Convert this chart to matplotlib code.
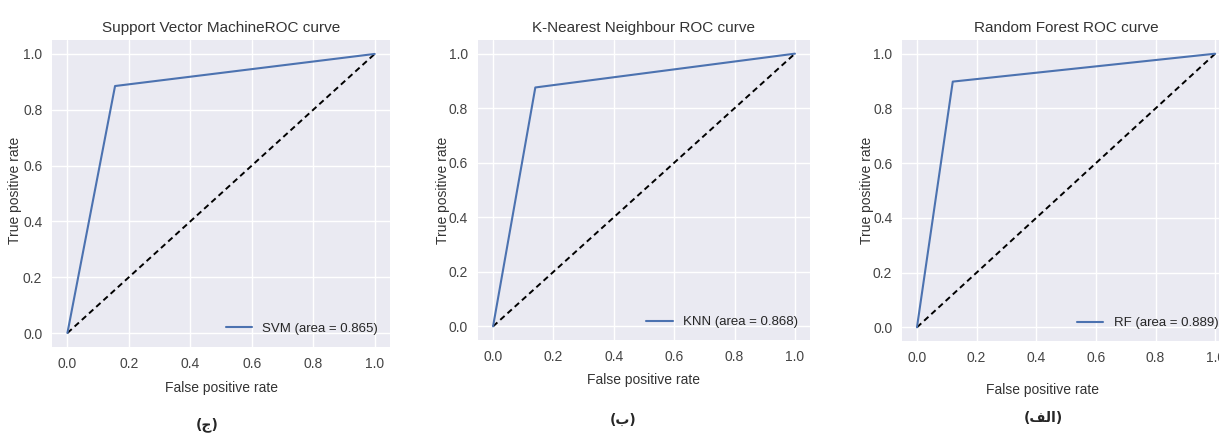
import numpy as np
import matplotlib
matplotlib.use("Agg")
import matplotlib.pyplot as plt

# ROC data
svm_fpr = [0.0, 0.155, 1.0]
svm_tpr = [0.0, 0.885, 1.0]
knn_fpr = [0.0, 0.14, 1.0]
knn_tpr = [0.0, 0.876, 1.0]
rf_fpr = [0.0, 0.12, 1.0]
rf_tpr = [0.0, 0.898, 1.0]

titles = ["Support Vector MachineROC curve", "K-Nearest Neighbour ROC curve", "Random Forest ROC curve"]
names = ["SVM", "KNN", "RF"]
aucs = [0.865, 0.868, 0.889]
# sub-figure captions (ج) (ب) (الف); "الف" written in presentation forms, visual order
captions = ["(ج)", "(ب)", "(\uFED2\uFEDF\uFE8D)"]

plt.style.use("seaborn-v0_8")
plt.rcParams["font.family"] = ["Liberation Sans", "DejaVu Sans"]

fig = plt.figure(figsize=(12.19, 4.34), dpi=100)
fig.patch.set_facecolor("white")

boxes = [[0.0427, 0.2005, 0.2773, 0.7074],
         [0.3921, 0.2166, 0.2724, 0.6912],
         [0.7400, 0.2143, 0.2691, 0.6935]]
curves = [(svm_fpr, svm_tpr), (knn_fpr, knn_tpr), (rf_fpr, rf_tpr)]
ylab_x = [15, 443, 867]
xlab_y = [388, 380, 390]
cap_pos = [(207, 425), (623, 420), (1043, 418)]

for i in range(3):
    ax = fig.add_axes(boxes[i])
    fpr, tpr = curves[i]
    ax.plot([0, 1], [0, 1], "k--", lw=1.4, dashes=(3, 2))
    ax.plot(fpr, tpr, color="#4C72B0", lw=1.5,
            label="%s (area = %.3f)" % (names[i], aucs[i]))
    ax.set_title(titles[i], fontsize=11, color="#333333")
    ax.set_xticks([0, 0.2, 0.4, 0.6, 0.8, 1.0])
    ax.set_yticks([0, 0.2, 0.4, 0.6, 0.8, 1.0])
    ax.tick_params(labelsize=10, labelcolor="#444444")
    ax.legend(loc="lower right", fontsize=9.5)
    fig.text(ylab_x[i] / 1219, 1 - 190 / 434, "True positive rate", rotation=90,
             ha="center", va="center", fontsize=10, color="#333333")
    fig.text((boxes[i][0] + boxes[i][2] / 2) if i < 2 else 1043 / 1219, 1 - xlab_y[i] / 434,
             "False positive rate", ha="center", va="center", fontsize=10, color="#333333")
    fig.text(cap_pos[i][0] / 1219, 1 - cap_pos[i][1] / 434, captions[i],
             ha="center", va="center", fontsize=10, fontweight="bold",
             family=["DejaVu Sans"])

fig.savefig("out.png", dpi=100)
